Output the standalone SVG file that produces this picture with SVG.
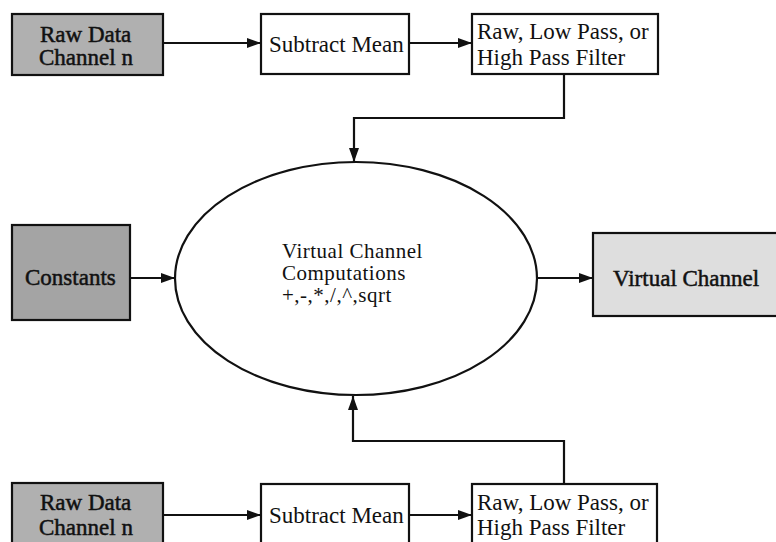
<svg xmlns="http://www.w3.org/2000/svg" width="776" height="542" viewBox="0 0 776 542">
<style>
.box{stroke:#111;stroke-width:2.2;}
.plain{fill:#fff;}
.raw{fill:#b0b0b0;}
.const{fill:#a4a4a4;}
.virt{fill:#dedede;}
.t{font-family:"Liberation Serif","Times New Roman",serif;font-size:23px;fill:#111;}
.tb{stroke:#111;stroke-width:0.5;}
.c{font-family:"Liberation Serif","Times New Roman",serif;font-size:21px;fill:#111;letter-spacing:0.5px;}
.wire{fill:none;stroke:#111;stroke-width:2.2;}
</style>
<defs>
<marker id="ah" viewBox="0 0 14 10" refX="14" refY="5" markerWidth="14" markerHeight="10" markerUnits="userSpaceOnUse" orient="auto">
<path d="M0,0 L14,5 L0,10 Z" fill="#111"/>
</marker>
</defs>
<rect width="776" height="542" fill="#fff"/>
<g id="raw1"><rect class="box raw" x="12" y="14" width="151" height="61"/><text class="t tb" x="40" y="42">Raw Data</text><text class="t tb" x="39" y="65">Channel n</text></g>
<g id="sub1"><rect class="box plain" x="261" y="14" width="148" height="60"/><text class="t" x="269" y="52">Subtract Mean</text></g>
<g id="filt1"><rect class="box plain" x="472" y="14" width="186" height="60"/><text class="t" x="477" y="39">Raw, Low Pass, or</text><text class="t" x="477" y="65">High Pass Filter</text></g>
<g id="const"><rect class="box const" x="12" y="225" width="118" height="95"/><text class="t tb" x="25" y="285">Constants</text></g>
<g id="comp"><ellipse class="box plain" cx="356" cy="278.5" rx="181" ry="116.5"/><text class="c" x="282" y="258">Virtual Channel</text><text class="c" x="282" y="280">Computations</text><text class="c" x="282" y="302">+,-,*,/,^,sqrt</text></g>
<g id="virt"><rect class="box virt" x="593" y="233" width="190" height="83"/><text class="t tb" x="613" y="286">Virtual Channel</text></g>
<g id="raw2"><rect class="box raw" x="12" y="483" width="151" height="70"/><text class="t tb" x="40" y="510">Raw Data</text><text class="t tb" x="39" y="535">Channel n</text></g>
<g id="sub2"><rect class="box plain" x="261" y="484" width="148" height="70"/><text class="t" x="269" y="523">Subtract Mean</text></g>
<g id="filt2"><rect class="box plain" x="472" y="484" width="185" height="70"/><text class="t" x="477" y="510">Raw, Low Pass, or</text><text class="t" x="477" y="535">High Pass Filter</text></g>
<g id="connectors">
<line class="wire" x1="163" y1="43" x2="261" y2="43" marker-end="url(#ah)"/>
<line class="wire" x1="409" y1="43" x2="472" y2="43" marker-end="url(#ah)"/>
<path class="wire" d="M564,74 V118 H354 V162" marker-end="url(#ah)"/>
<line class="wire" x1="130" y1="278" x2="175" y2="278" marker-end="url(#ah)"/>
<line class="wire" x1="537" y1="278" x2="593" y2="278" marker-end="url(#ah)"/>
<line class="wire" x1="163" y1="515" x2="261" y2="515" marker-end="url(#ah)"/>
<line class="wire" x1="409" y1="515" x2="472" y2="515" marker-end="url(#ah)"/>
<path class="wire" d="M564,484 V441 H353 V396" marker-end="url(#ah)"/>
</g>
</svg>
